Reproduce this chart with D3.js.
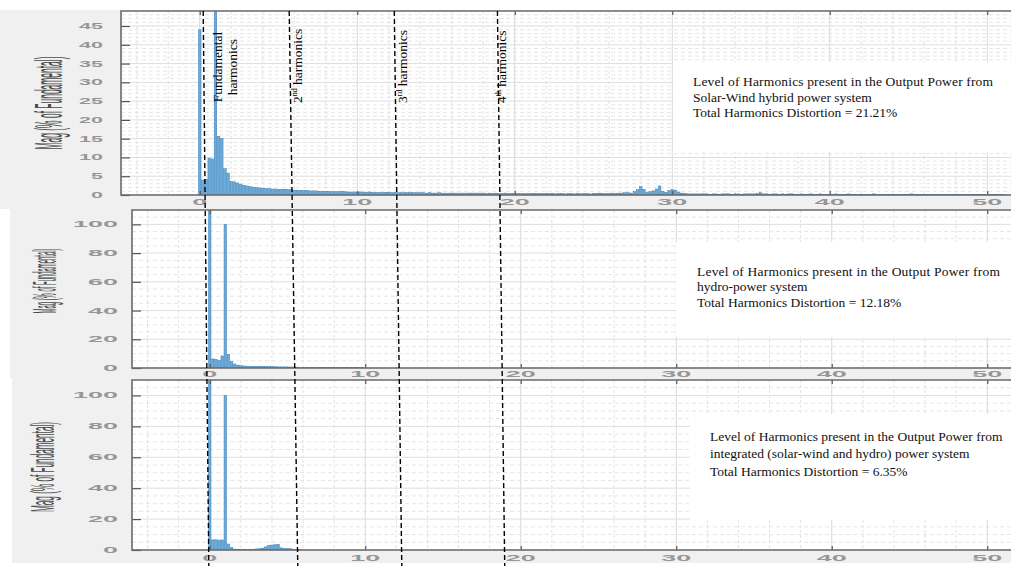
<!DOCTYPE html>
<html><head><meta charset="utf-8">
<script src="https://cdn.jsdelivr.net/npm/d3@7"></script>
<style>body{margin:0;background:#fff;} svg{display:block;}</style>
</head><body><svg id="c" width="1011" height="566"></svg>
<script>
// ---------- DATA ----------
const harmonicStep = 0.2; // spectrum resolution (fraction of fundamental)
const solarWind = [
 44,4.0,4.2,9.8,9.6,100,15.6,15.0,7.0,5.8,
 3.6,3.5,3.2,2.9,2.6,2.4,2.2,2.1,2.0,1.9,
 1.8,1.7,1.7,1.6,1.6,1.5,1.5,1.5,1.4,1.4,
 1.3,1.3,1.2,1.2,1.2,1.1,1.1,1.1,1.0,1.0,
 1.0,1.0,0.9,0.9,0.9,0.9,0.9,0.8,0.8,0.8,
 0.8,0.8,0.8,0.7,0.8,0.7,0.7,0.7,0.7,0.7,
 0.7,0.6,0.7,0.6,0.6,0.6,0.6,0.6,0.6,0.6,
 0.6,0.6,0.5,0.6,0.5,0.5,0.6,0.5,0.5,0.5,
 0.5,0.5,0.5,0.5,0.5,0.5,0.5,0.5,0.5,0.5,
 0.5,0.4,0.5,0.4,0.5,0.4,0.4,0.5,0.4,0.4,
 0.4,0.4,0.4,0.4,0.4,0.4,0.4,0.4,0.4,0.4,
 0.4,0.4,0.4,0.3,0.4,0.4,0.3,0.4,0.4,0.3,
 0.4,0.3,0.4,0.4,0.3,0.4,0.4,0.5,0.4,0.4,
 0.4,0.5,0.4,0.5,0.5,0.6,0.6,0.5,0.9,1.4,
 2.2,1.5,0.7,0.9,1.1,1.6,2.4,1.0,0.7,1.2,
 1.4,1.3,0.8,0.5,0.4,0.3,0.3,0.3,0.3,0.3,
 0.3,0.3,0.2,0.3,0.3,0.2,0.3,0.3,0.3,0.2,
 0.3,0.3,0.2,0.3,0.3,0.3,0.3,0.4,0.6,0.3,
 0.3,0.2,0.3,0.3,0.2,0.3,0.2,0.3,0.3,0.2,
 0.2,0.3,0.2,0.2,0.3,0.2,0.2,0.3,0.2,0.2,
 0.2,0.2,0.3,0.2,0.2,0.2,0.3,0.2,0.2,0.2,
 0.2,0.2,0.2,0.2,0.3,0.2,0.2,0.2,0.2,0.2,
 0.2,0.2,0.2,0.2,0.2,0.2,0.3,0.2,0.2,0.2,
 0.2,0.2,0.2,0.2,0.2,0.2,0.2,0.2,0.2,0.2,
 0.2,0.2,0.2,0.2,0.2,0.2,0.2,0.2,0.2,0.2,
 0.2,0.2,0.2,0.2,0.2,0.2
];
const hydro = [
 115,6.3,6.0,5.2,8.4,100,9.6,4.4,2.8,2.0,
 1.6,1.4,1.3,1.2,1.2,1.1,1.1,1.0,1.0,0.9,
 0.9,0.9,0.8,0.8,0.8,0.8,0.7,0.7,0.6,0.5,
 0.4,0.4,0.4,0.3,0.3,0.3,0.3,0.3,0.3,0.3,
 0.3,0.3,0.3,0.2,0.2,0.2,0.2,0.2,0.2,0.2
];
const integrated = [
 115,6.5,6.6,6.4,6.5,100,3.9,1.5,0.6,0.4,
 0.3,0.3,0.3,0.4,0.5,0.7,0.8,1.2,2.0,3.0,
 3.2,3.4,3.6,1.4,1.0,0.9,0.8,0.5,0.3,0.2
];
const xTicks = [0,10,20,30,40,50];
const yTicksTop = [0,5,10,15,20,25,30,35,40,45];
const yTicksLower = [0,20,40,60,80,100];
const yLabel = "Mag (% of Fundamental)";
const notesSolar = ["Level of Harmonics present in the Output Power from","Solar-Wind hybrid power system","Total Harmonics Distortion = 21.21%"];
const notesHydro = ["Level of Harmonics present in the Output Power from","hydro-power system","Total Harmonics Distortion = 12.18%"];
const notesIntegrated = ["Level of Harmonics present in the Output Power from","integrated (solar-wind and hydro) power system","Total Harmonics Distortion = 6.35%"];
const markerNames = [["Fundamental","harmonics"],["2","nd"," harmonics"],["3","rd"," harmonics"],["4","th"," harmonics"]];
const markerTop = [0.22,5.68,12.35,18.9];     // dashed guide lines, top panel units
const markerBottom = [-0.06,5.66,12.35,18.97]; // same lines where they reach the bottom

// ---------- LAYOUT ----------
const svg = d3.select("#c");
const panels = [
  {data:solarWind, yMax:49, yTicks:yTicksTop, yMinor:1, bg:[0,10,1011,199], L:121, T:11, B:195, x0:199.75, pxu:15.75,
   yLabX:49, yLabY:103, yLabLen:93, yLabH:38, tickLabR:103, tickLabW:12, xLabY:202, notes:notesSolar,
   box:[673,62,340,90], textX:693, textY:[86,102,117], justify:300},
  {data:hydro, yMax:110, yTicks:yTicksLower, yMinor:5, bg:[10,209,1001,169], L:132, T:210, B:368, x0:209.75, pxu:15.55,
   yLabX:44, yLabY:281, yLabLen:65, yLabH:34, tickLabR:118, tickLabW:15, xLabY:374, notes:notesHydro,
   box:[676,242,340,95], textX:697, textY:[276,291,307], justify:303},
  {data:integrated, yMax:110, yTicks:yTicksLower, yMinor:5, bg:[12,378,999,185], L:132, T:380, B:550, x0:209.75, pxu:15.55,
   yLabX:42, yLabY:467, yLabLen:90, yLabH:34, tickLabR:118, tickLabW:15, xLabY:558, notes:notesIntegrated,
   box:[690,414,325,106], textX:710, textY:[441,458,476], justify:null}
];

const scales = [];
panels.forEach((p,k)=>{
  const x = d3.scaleLinear().domain([-5,50]).range([p.x0-5*p.pxu, p.x0+50*p.pxu]);
  const y = d3.scaleLinear().domain([0,p.yMax]).range([p.B,p.T]);
  scales.push({x,y});
  const R = 1011;
  const g = svg.append("g");
  g.append("rect").attr("x",p.bg[0]).attr("y",p.bg[1]).attr("width",p.bg[2]).attr("height",p.bg[3]).attr("fill","#f0f0f0");
  g.append("rect").attr("x",p.L).attr("y",p.T).attr("width",R-p.L+5).attr("height",p.B-p.T).attr("fill","#fff");
  // minor grid
  const xMinor = d3.range(-4,52,2).filter(v=>v%10!==0);
  g.selectAll(".xm").data(xMinor).join("line").attr("x1",d=>x(d)).attr("x2",d=>x(d)).attr("y1",p.T).attr("y2",p.B)
    .attr("stroke","#e3e3e3").attr("stroke-width",1).attr("stroke-dasharray","3,2");
  const yMinor = d3.range(p.yMinor, p.yMax, p.yMinor).filter(v=>!p.yTicks.includes(v));
  g.selectAll(".ym").data(yMinor).join("line").attr("x1",p.L).attr("x2",R).attr("y1",d=>y(d)).attr("y2",d=>y(d))
    .attr("stroke","#e6e6e6").attr("stroke-width",1).attr("stroke-dasharray","4,3");
  // major grid
  g.selectAll(".xM").data(xTicks).join("line").attr("x1",d=>x(d)).attr("x2",d=>x(d)).attr("y1",p.T).attr("y2",p.B)
    .attr("stroke","#d9d9d9").attr("stroke-width",1);
  g.selectAll(".yM").data(p.yTicks).join("line").attr("x1",p.L).attr("x2",R).attr("y1",d=>y(d)).attr("y2",d=>y(d))
    .attr("stroke","#dedede").attr("stroke-width",1);
  // bars
  const cid = "clip"+k;
  svg.append("clipPath").attr("id",cid).append("rect").attr("x",p.L).attr("y",p.T).attr("width",R-p.L+5).attr("height",p.B-p.T);
  const bw = x(0.16)-x(0);
  g.append("g").attr("clip-path",`url(#${cid})`).selectAll("rect").data(p.data).join("rect")
    .attr("x",(d,i)=>x(i*harmonicStep)-bw/2).attr("width",bw)
    .attr("y",d=>y(d)).attr("height",d=>p.B-y(d))
    .attr("fill","#6aacdc").attr("stroke","#3b7db3").attr("stroke-width",0.5);
  // axes with inward ticks
  const ax = g.append("g").attr("transform",`translate(0,${p.B})`).call(d3.axisBottom(x).tickValues(xTicks).tickSize(-4).tickFormat(""));
  const axT = g.append("g").attr("transform",`translate(0,${p.T})`).call(d3.axisTop(x).tickValues(xTicks).tickSize(-4).tickFormat(""));
  const ay = g.append("g").attr("transform",`translate(${p.L},0)`).call(d3.axisLeft(y).tickValues(p.yTicks).tickSize(-9).tickFormat(""));
  [ax,axT,ay].forEach(a=>{a.select(".domain").remove(); a.selectAll("line").attr("stroke","#555").attr("stroke-width",1.2);});
  g.append("path").attr("d",`M${R+2},${p.T}H${p.L}V${p.B}H${R+2}`).attr("fill","none").attr("stroke","#6a6a6a").attr("stroke-width",1.6);
  // tick labels (stretched look)
  g.selectAll(".yl").data(p.yTicks).join("text")
    .attr("x",p.tickLabR).attr("y",d=>y(d)).attr("text-anchor","end").attr("dominant-baseline","central")
    .attr("font-family","Liberation Sans, Arial").attr("font-weight","bold").attr("font-size",8.5).attr("fill","#969696")
    .attr("textLength",d=>String(d).length*p.tickLabW).attr("lengthAdjust","spacingAndGlyphs").text(d=>d);
  g.selectAll(".xl").data(xTicks).join("text")
    .attr("x",d=>x(d)-String(d).length*7.5).attr("y",p.xLabY).attr("dominant-baseline","central")
    .attr("font-family","Liberation Sans, Arial").attr("font-weight","bold").attr("font-size",8.5).attr("fill","#969696")
    .attr("textLength",d=>String(d).length*15).attr("lengthAdjust","spacingAndGlyphs").text(d=>d);
  // y label: condensed via transform scale
  const lab = g.append("text")
    .attr("text-anchor","middle").attr("dominant-baseline","central")
    .attr("font-family","Liberation Sans, Arial").attr("font-size",p.yLabH).attr("fill","#4a4a4a").text(yLabel);
  const nat = lab.node().getComputedTextLength();
  lab.attr("transform",`translate(${p.yLabX},${p.yLabY}) rotate(-90) scale(${p.yLabLen/nat},1)`);
  // note box
  svg.append("rect").attr("x",p.box[0]).attr("y",p.box[1]).attr("width",p.box[2]).attr("height",p.box[3]).attr("fill","#fff");
  p.notes.forEach((t,i)=>{
    const tx = svg.append("text").attr("x",p.textX).attr("y",p.textY[i])
      .attr("font-family","Liberation Serif, Times New Roman, serif").attr("font-size",13.5).attr("fill","#111").text(t);
    if(i===0 && p.justify) tx.attr("textLength",p.justify).attr("lengthAdjust","spacing");
  });
});

// ---------- dashed guide lines ----------
const xt = scales[0].x, xb = scales[2].x;
markerTop.forEach((m,i)=>{
  svg.append("line").attr("x1",xt(m)).attr("y1",11).attr("x2",xb(markerBottom[i])).attr("y2",566)
    .attr("stroke","#000").attr("stroke-width",1.4).attr("stroke-dasharray","5,3");
});

// ---------- rotated harmonic labels ----------
const serif = "Liberation Serif, Times New Roman, serif";
const labelPos = [1.41, 6.49, 13.16, 19.44];
svg.append("text").attr("transform",`translate(${xt(labelPos[0])},67) rotate(-90)`).attr("text-anchor","middle")
  .attr("font-family",serif).attr("font-size",13.5).attr("fill","#000").text(markerNames[0][0]);
svg.append("text").attr("transform",`translate(${xt(labelPos[0])+15.5},67) rotate(-90)`).attr("text-anchor","middle")
  .attr("font-family",serif).attr("font-size",13.5).attr("fill","#000").text(markerNames[0][1]);
for(let i=1;i<4;i++){
  const t = svg.append("text").attr("transform",`translate(${xt(labelPos[i])},103) rotate(-90)`)
    .attr("font-family",serif).attr("font-size",13.5).attr("fill","#000");
  t.append("tspan").text(markerNames[i][0]);
  t.append("tspan").attr("font-size",8).attr("dy",-5).text(markerNames[i][1]);
  t.append("tspan").attr("dy",5).text(markerNames[i][2]);
}
</script></body></html>
